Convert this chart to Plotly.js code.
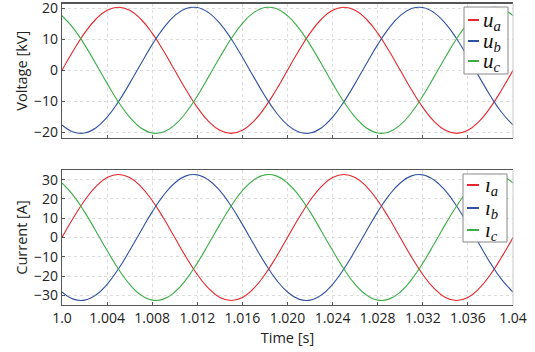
<!DOCTYPE html>
<html>
<head>
<meta charset="utf-8">
<script src="https://cdn.plot.ly/plotly-3.0.1.min.js"></script>
<style>html,body{margin:0;padding:0;background:#fff;}#plot{width:535px;height:352px;}</style>
</head>
<body>
<div id="plot"></div>
<script>
// ---- data ----
const time = [1.000,1.001,1.002,1.003,1.004,1.005,1.006,1.007,1.008,1.009,1.010,1.011,1.012,1.013,1.014,1.015,1.016,1.017,1.018,1.019,1.020,1.021,1.022,1.023,1.024,1.025,1.026,1.027,1.028,1.029,1.030,1.031,1.032,1.033,1.034,1.035,1.036,1.037,1.038,1.039,1.040];
const ua = [0,6.31,12.00,16.51,19.41,20.41,19.41,16.51,12.00,6.31,0,-6.31,-12.00,-16.51,-19.41,-20.41,-19.41,-16.51,-12.00,-6.31,0,6.31,12.00,16.51,19.41,20.41,19.41,16.51,12.00,6.31,0,-6.31,-12.00,-16.51,-19.41,-20.41,-19.41,-16.51,-12.00,-6.31,0];
const ub = [-17.68,-19.96,-20.30,-18.65,-15.17,-10.21,-4.24,2.13,8.30,13.66,17.68,19.96,20.30,18.65,15.17,10.21,4.24,-2.13,-8.30,-13.66,-17.68,-19.96,-20.30,-18.65,-15.17,-10.21,-4.24,2.13,8.30,13.66,17.68,19.96,20.30,18.65,15.17,10.21,4.24,-2.13,-8.30,-13.66,-17.68];
const uc = [17.68,13.66,8.30,2.13,-4.24,-10.21,-15.17,-18.65,-20.30,-19.96,-17.68,-13.66,-8.30,-2.13,4.24,10.21,15.17,18.65,20.30,19.96,17.68,13.66,8.30,2.13,-4.24,-10.21,-15.17,-18.65,-20.30,-19.96,-17.68,-13.66,-8.30,-2.13,4.24,10.21,15.17,18.65,20.30,19.96,17.68];
const ia = [0,10.09,19.20,26.42,31.06,32.66,31.06,26.42,19.20,10.09,0,-10.09,-19.20,-26.42,-31.06,-32.66,-31.06,-26.42,-19.20,-10.09,0,10.09,19.20,26.42,31.06,32.66,31.06,26.42,19.20,10.09,0,-10.09,-19.20,-26.42,-31.06,-32.66,-31.06,-26.42,-19.20,-10.09,0];
const ib = [-28.28,-31.95,-32.48,-29.84,-24.27,-16.33,-6.79,3.41,13.28,21.85,28.28,31.95,32.48,29.84,24.27,16.33,6.79,-3.41,-13.28,-21.85,-28.28,-31.95,-32.48,-29.84,-24.27,-16.33,-6.79,3.41,13.28,21.85,28.28,31.95,32.48,29.84,24.27,16.33,6.79,-3.41,-13.28,-21.85,-28.28];
const ic = [28.28,21.85,13.28,3.41,-6.79,-16.33,-24.27,-29.84,-32.48,-31.95,-28.28,-21.85,-13.28,-3.41,6.79,16.33,24.27,29.84,32.48,31.95,28.28,21.85,13.28,3.41,-6.79,-16.33,-24.27,-29.84,-32.48,-31.95,-28.28,-21.85,-13.28,-3.41,6.79,16.33,24.27,29.84,32.48,31.95,28.28];
const xTickVals = [1.000,1.004,1.008,1.012,1.016,1.020,1.024,1.028,1.032,1.036,1.040];
const xTickText = ["1.0","1.004","1.008","1.012","1.016","1.020","1.024","1.028","1.032","1.036","1.04"];
const vTicks = [-20,-10,0,10,20];
const iTicks = [-30,-20,-10,0,10,20,30];
const vNames = ["<i>u</i><sub><i>a</i></sub>","<i>u</i><sub><i>b</i></sub>","<i>u</i><sub><i>c</i></sub>"];
const iNames = ["<i>ı</i><sub><i>a</i></sub>","<i>ı</i><sub><i>b</i></sub>","<i>ı</i><sub><i>c</i></sub>"];
const colors = ["#e5262c","#2f52a3","#3aae45"];

// ---- layout geometry (pixels) ----
const W = 535, H = 352;
const M = {l: 62, r: 22, t: 3, b: 47};
const PW = W - M.l - M.r, PH = H - M.t - M.b;
const px = x => (x - M.l) / PW;
const py = y => 1 - (y - M.t) / PH;

const sans = "Open Sans, DejaVu Sans, sans-serif";
const tickFont = {family: sans, size: 14, color: "#222"};
const titleFont = {family: sans, size: 14.5, color: "#222"};
const traces = [];
[ua, ub, uc].forEach((s, k) => traces.push({x: time, y: s, xaxis: "x", yaxis: "y", mode: "lines",
  line: {color: colors[k], width: 1.1, shape: "spline", smoothing: 1.3}, name: vNames[k], showlegend: false, hoverinfo: "skip"}));
[ia, ib, ic].forEach((s, k) => traces.push({x: time, y: s, xaxis: "x2", yaxis: "y2", mode: "lines",
  line: {color: colors[k], width: 1.1, shape: "spline", smoothing: 1.3}, name: iNames[k], showlegend: false, hoverinfo: "skip"}));

const common = {
  showgrid: true, gridcolor: "#dcdcdc", griddash: "dot", gridwidth: 1,
  zeroline: false, showline: true, linecolor: "#555", linewidth: 1.2,
  ticks: "inside", ticklen: 3, tickcolor: "#555", tickfont: tickFont,
  ticklabeloverflow: "allow"
};

const shapes = [];
const annotations = [];
function legend(box, rows, names, lineX0, lineX1, textX, family) {
  shapes.push({type: "rect", xref: "paper", yref: "paper", x0: px(box[0]), x1: px(box[1]), y0: py(box[3]), y1: py(box[2]),
    line: {color: "#888", width: 1}, fillcolor: "rgba(255,255,255,0.95)", layer: "above"});
  rows.forEach((ry, k) => {
    shapes.push({type: "line", xref: "paper", yref: "paper", x0: px(lineX0), x1: px(lineX1), y0: py(ry), y1: py(ry),
      line: {color: colors[k], width: 2}, layer: "above"});
    annotations.push({xref: "paper", yref: "paper", x: px(textX), y: py(ry + 1), xanchor: "left", yanchor: "middle",
      text: names[k], showarrow: false, font: {family: family, size: 21, color: "#111"}});
  });
}
legend([464, 508, 7, 74], [20, 41, 61], vNames, 468, 479, 481, "Liberation Serif, DejaVu Serif, serif");
legend([463, 507, 174, 242], [185, 208, 230], iNames, 467, 479, 483, "Liberation Serif, DejaVu Serif, serif");

// right borders (light grey)
shapes.push({type: "line", xref: "paper", yref: "y domain", x0: 1, x1: 1, y0: 0, y1: 1, line: {color: "#c8c8c8", width: 1}});
shapes.push({type: "line", xref: "paper", yref: "y2 domain", x0: 1, x1: 1, y0: 0, y1: 1, line: {color: "#c8c8c8", width: 1}});

const layout = {
  width: W, height: H, margin: M, paper_bgcolor: "#fff", plot_bgcolor: "#fff", showlegend: false,
  xaxis: Object.assign({}, common, {domain: [0, 1], anchor: "y", range: [1.0, 1.04], tickvals: xTickVals, ticktext: xTickText,
    showticklabels: false, mirror: true}),
  yaxis: Object.assign({}, common, {domain: [py(138), py(3.5)], anchor: "x", range: [-21.9, 21.6], tickvals: vTicks,
    title: {text: "Voltage [kV]", font: titleFont, standoff: 3}}),
  xaxis2: Object.assign({}, common, {domain: [0, 1], anchor: "y2", range: [1.0, 1.04], tickvals: xTickVals, ticktext: xTickText,
    mirror: true, title: {text: "Time [s]", font: titleFont, standoff: 6}}),
  yaxis2: Object.assign({}, common, {domain: [0, py(170)], anchor: "x2", range: [-35, 35], tickvals: iTicks,
    title: {text: "Current [A]", font: titleFont, standoff: 3}}),
  shapes: shapes, annotations: annotations
};

Plotly.newPlot("plot", traces, layout, {staticPlot: true, displayModeBar: false});
</script>
</body>
</html>
